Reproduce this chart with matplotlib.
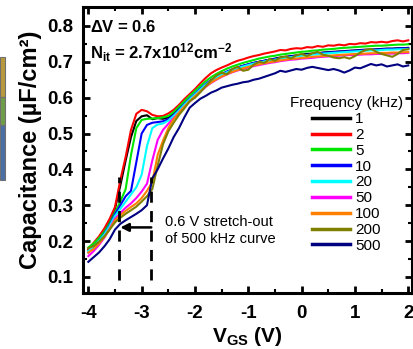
import numpy as np
import matplotlib
matplotlib.use("Agg")
import matplotlib.pyplot as plt
from matplotlib.patches import Rectangle

plt.rcParams["font.family"] = "Liberation Sans"
plt.rcParams["mathtext.fontset"] = "custom"
plt.rcParams["mathtext.rm"] = "Liberation Sans"
plt.rcParams["mathtext.bf"] = "Liberation Sans:bold"
plt.rcParams["mathtext.default"] = "bf"

# gate voltage sweep (V), 0.1 V steps
vgs = np.linspace(-4.0, 2.0, 61)

freqs = ["1", "2", "5", "10", "20", "50", "100", "200", "500"]
colors = ["#000000", "#ff0000", "#00e600", "#0000ff", "#00ffff",
          "#ff00ff", "#ff8000", "#808000", "#000080"]

# capacitance (uF/cm^2) per frequency
c_1k = [.175, .190, .208, .230, .258, .290, .355, .425, .490, .535,
        .548, .551, .540, .543, .541, .545, .555, .568, .582, .596,
        .610, .624, .637, .648, .657, .665, .672, .678, .684, .689,
        .693, .697, .700, .703, .706, .709, .712, .714, .716, .718,
        .720, .722, .723, .724, .726, .727, .728, .729, .730, .731,
        .732, .733, .734, .734, .735, .736, .737, .737, .738, .738,
        .739]
c_2k = [.178, .195, .213, .235, .262, .295, .370, .435, .510, .555,
        .566, .562, .552, .548, .549, .556, .566, .580, .596, .610,
        .624, .640, .655, .668, .677, .684, .690, .697, .703, .707,
        .712, .716, .719, .723, .726, .729, .733, .732, .736, .738,
        .737, .741, .740, .744, .742, .746, .745, .748, .746, .750,
        .749, .752, .751, .755, .754, .756, .754, .758, .760, .757,
        .760]
c_5k = [.182, .193, .208, .226, .250, .280, .310, .345, .440, .515,
        .538, .541, .542, .543, .545, .549, .560, .575, .590, .605,
        .619, .633, .646, .657, .666, .674, .681, .687, .692, .697,
        .701, .705, .709, .712, .715, .717, .720, .722, .724, .726,
        .728, .729, .731, .732, .734, .735, .736, .738, .739, .740,
        .741, .742, .743, .744, .745, .745, .746, .747, .748, .748,
        .749]
c_10k = [.168, .183, .200, .220, .245, .275, .300, .325, .340, .420,
         .500, .524, .530, .532, .534, .540, .552, .567, .582, .597,
         .611, .625, .638, .649, .658, .666, .673, .679, .684, .689,
         .693, .697, .700, .703, .706, .708, .711, .713, .715, .717,
         .719, .720, .722, .723, .725, .726, .727, .728, .729, .730,
         .731, .732, .733, .734, .734, .735, .736, .736, .737, .738,
         .738]
c_20k = [.172, .185, .200, .218, .242, .270, .290, .310, .330, .350,
         .385, .465, .515, .525, .528, .536, .549, .564, .580, .595,
         .609, .623, .636, .647, .656, .664, .671, .677, .682, .687,
         .691, .695, .698, .701, .704, .706, .709, .711, .713, .715,
         .717, .718, .720, .721, .723, .724, .725, .726, .727, .728,
         .729, .730, .731, .732, .732, .733, .734, .734, .735, .735,
         .736]
c_50k = [.158, .172, .189, .209, .235, .262, .278, .293, .305, .320,
         .338, .360, .425, .482, .510, .527, .543, .558, .574, .589,
         .603, .617, .630, .641, .650, .658, .665, .671, .676, .680,
         .684, .688, .691, .694, .697, .699, .702, .704, .706, .707,
         .709, .710, .711, .713, .714, .715, .716, .717, .718, .719,
         .719, .720, .721, .721, .722, .722, .723, .723, .724, .724,
         .725]
c_100k = [.168, .178, .193, .211, .233, .258, .272, .284, .295, .305,
          .320, .340, .365, .440, .480, .515, .540, .558, .575, .590,
          .604, .618, .631, .642, .651, .659, .666, .672, .677, .682,
          .686, .690, .693, .696, .699, .701, .704, .706, .708, .709,
          .711, .712, .714, .715, .716, .717, .718, .719, .720, .721,
          .722, .722, .723, .724, .724, .725, .725, .726, .726, .727,
          .727]
c_200k = [.180, .186, .198, .213, .232, .252, .265, .276, .286, .296,
          .310, .325, .345, .410, .470, .506, .530, .552, .570, .590,
          .600, .615, .632, .648, .662, .670, .665, .680, .686, .675,
          .678, .692, .700, .697, .708, .703, .712, .715, .709, .718,
          .722, .716, .724, .728, .720, .717, .712, .710, .713, .709,
          .716, .726, .733, .736, .728, .722, .718, .714, .722, .733,
          .735]
c_500k = [.142, .155, .168, .185, .205, .232, .248, .258, .267, .276,
          .286, .300, .375, .400, .430, .458, .490, .515, .545, .572,
          .585, .597, .605, .614, .620, .628, .632, .636, .639, .643,
          .645, .650, .653, .658, .663, .668, .675, .672, .676, .680,
          .678, .683, .686, .683, .680, .677, .680, .676, .670, .676,
          .684, .682, .688, .694, .690, .693, .687, .690, .693, .687,
          .690]

curves = [c_1k, c_2k, c_5k, c_10k, c_20k, c_50k, c_100k, c_200k, c_500k]

# stretch-out of the 500 kHz curve
stretch_left = -3.42
stretch_right = stretch_left + 0.6

fig = plt.figure(figsize=(4.14, 3.49), dpi=100)
ax = fig.add_axes([83 / 414, 56 / 349, 329 / 414, 286 / 349])

for f, c, col in zip(freqs, curves, colors):
    ax.plot(vgs, c, color=col, lw=1.5, label=f)

for xv in (stretch_left, stretch_right):
    ax.plot([xv, xv], [0.09, 0.38], color="k", lw=2, ls=(0, (4, 3)))
ax.annotate("", xy=(stretch_left + 0.02, 0.238), xytext=(stretch_right, 0.238),
            arrowprops=dict(arrowstyle="-|>", color="k", lw=1.8,
                            mutation_scale=12, shrinkA=0, shrinkB=0))
ax.text(-2.57, 0.229, "0.6 V stretch-out\nof 500 kHz curve", fontsize=10.5,
        ha="left", va="center", linespacing=1.25)

ax.text(0.02, 0.93, r"$\Delta$V = 0.6", transform=ax.transAxes,
        fontsize=12, fontweight="bold", ha="left", va="center")
ax.text(0.02, 0.84, r"N$_{it}$ = 2.7x10$^{12}$cm$^{-2}$", transform=ax.transAxes,
        fontsize=12, fontweight="bold", ha="left", va="center")

ax.set_xlim(-4.1, 2.07)
ax.set_ylim(0.055, 0.853)
ax.set_xticks(np.arange(-4, 3, 1))
ax.set_xticks(np.arange(-4, 2.01, 0.5), minor=True)
ax.set_yticks(np.arange(0.1, 0.81, 0.1))
ax.set_yticks(np.arange(0.1, 0.851, 0.05), minor=True)
ax.set_yticklabels([f"{v:.1f}" for v in np.arange(0.1, 0.81, 0.1)])
ax.set_xticklabels([str(v) for v in range(-4, 3)])

ax.tick_params(which="both", direction="in", top=True, right=True)
ax.tick_params(which="major", length=5, width=2, labelsize=13.5, pad=7)
ax.tick_params(which="minor", length=3, width=1.5)
ax.tick_params(axis="x", which="major", pad=9)
for lab in ax.get_xticklabels() + ax.get_yticklabels():
    lab.set_fontweight("bold")
for sp in ax.spines.values():
    sp.set_linewidth(2.2)

ax.set_xlabel(r"V$_{GS}$ (V)", fontsize=15, fontweight="bold", labelpad=2)
ax.set_ylabel("Capacitance (\u00b5F/cm\u00b2)", fontsize=17, fontweight="bold",
              labelpad=4)

leg = ax.legend(title="Frequency (kHz)", loc="upper right",
                bbox_to_anchor=(1.0, 0.72), frameon=False, fontsize=11,
                title_fontsize=11, labelspacing=0.12, handlelength=2.5,
                handletextpad=0.3, borderpad=0.1)
for h in leg.get_lines():
    h.set_linewidth(2.5)

# edge of the neighbouring panel
for y0, y1, fc in [(57, 97, "#b89a3c"), (97, 125, "#6f9e48"), (125, 180, "#4a6ea6")]:
    fig.patches.append(Rectangle((0, 1 - y1 / 349), 5 / 414, (y1 - y0) / 349,
                                 transform=fig.transFigure, facecolor=fc,
                                 edgecolor="#707070", lw=0.8))

fig.savefig("out.png", dpi=100)
